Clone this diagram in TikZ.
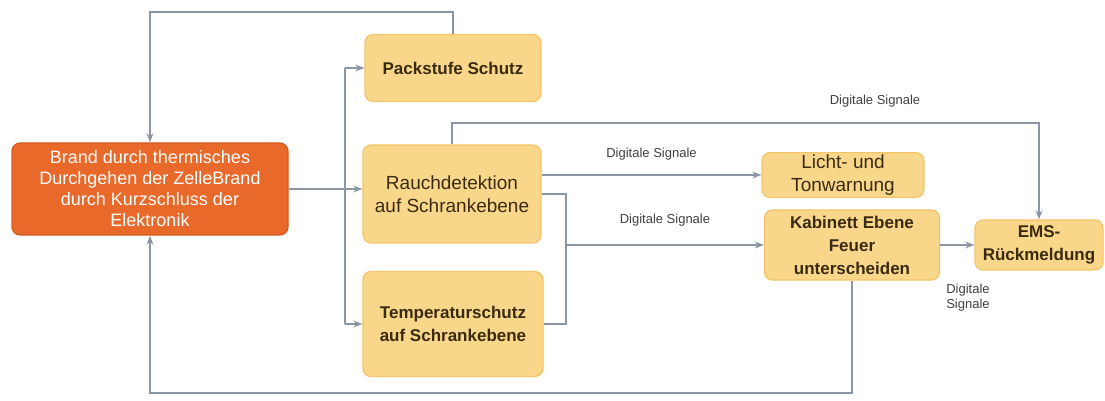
\documentclass[tikz,border=0pt]{standalone}
\usepackage{fontspec}
\setmainfont{Liberation Sans}
\usetikzlibrary{arrows.meta}
\definecolor{boxfill}{HTML}{F9D78A}
\definecolor{boxline}{HTML}{F2C46A}
\definecolor{firefill}{HTML}{E8692A}
\definecolor{fireline}{HTML}{D45A1E}
\definecolor{wire}{HTML}{8A96A3}
\definecolor{boxtext}{HTML}{3A2A10}

\tikzset{
  box/.style={rectangle,rounded corners=4pt,draw=boxline,fill=boxfill,line width=0.6pt,
    text=boxtext,align=center,inner sep=2pt,font=\fontsize{9.5}{11.5}\selectfont},
  boldbox/.style={box,font=\fontsize{8.5}{11.5}\selectfont\bfseries},
  firebox/.style={box,draw=fireline,fill=firefill,text=white,font=\fontsize{9}{10.5}\selectfont},
  wirelabel/.style={font=\fontsize{6.5}{7.5}\selectfont,text=black!75,align=center,inner sep=1pt},
  link/.style={draw=wire,line width=0.8pt}
}

\begin{document}
\begin{tikzpicture}[x=0.5pt,y={(0pt,-0.5pt)},>={Stealth[length=1.6mm]}]
  \useasboundingbox (0,0) rectangle (1105,401);
  % blocks
  \node[firebox,minimum width=138pt,minimum height=46pt] (brand) at (150,189)
    {Brand durch thermisches\\Durchgehen der ZelleBrand\\durch Kurzschluss der\\Elektronik};
  \node[boldbox,minimum width=88pt,minimum height=33.5pt] (pack) at (453,68) {Packstufe Schutz};
  \node[box,minimum width=89pt,minimum height=49pt] (rauch) at (452,194) {Rauchdetektion\\auf Schrankebene};
  \node[boldbox,minimum width=90pt,minimum height=52.5pt] (temp) at (453,324) {Temperaturschutz\\auf Schrankebene};
  \node[box,minimum width=81pt,minimum height=21.5pt,inner sep=1pt] (licht) at (843,175) {Licht- und\\Tonwarnung};
  \node[boldbox,minimum width=87.5pt,minimum height=35pt,inner sep=1pt] (kab) at (852,245) {Kabinett Ebene\\Feuer\\unterscheiden};
  \node[boldbox,minimum width=64pt,minimum height=25pt,inner sep=1pt] (ems) at (1039,245) {EMS-\\R\"uckmeldung};

  % helper points
  \coordinate (topy) at (0,12);
  \coordinate (botty) at (0,393);
  \coordinate (emsy) at (0,123);
  \coordinate (bus) at (345,189);
  \coordinate (merge) at (566,245);

  % feedback loops
  \draw[link,->] (pack.north) -- (pack.north |- topy) -| (brand.north);
  \draw[link,->] (kab.south) -- (kab.south |- botty) -| (brand.south);

  % distribution bus
  \draw[link,->] (brand.east) -- (brand.east -| rauch.west);
  \draw[link] (bus |- pack.west) -- (bus |- temp.west);
  \draw[link,->] (bus |- pack.west) -- (pack.west);
  \draw[link,->] (bus |- temp.west) -- (temp.west);

  % digital signals
  \draw[link,->] (licht.west -| rauch.east) -- node[wirelabel,above=6pt] {Digitale Signale} (licht.west);
  \draw[link,->] (rauch.north) -- (rauch.north |- emsy) -| (ems.north);
  \node[wirelabel] (lblems) at (875,101) {Digitale Signale};
  \draw[link] (rauch.east) -- (rauch.east -| merge) -- (merge |- temp.east) -- (temp.east);
  \draw[link,->] (merge) -- node[wirelabel,above=8pt] {Digitale Signale} (kab.west);
  \draw[link,->] (kab.east) -- (ems.west);
  \node[wirelabel] (lblkab) at (968,298) {Digitale\\Signale};
\end{tikzpicture}
\end{document}
